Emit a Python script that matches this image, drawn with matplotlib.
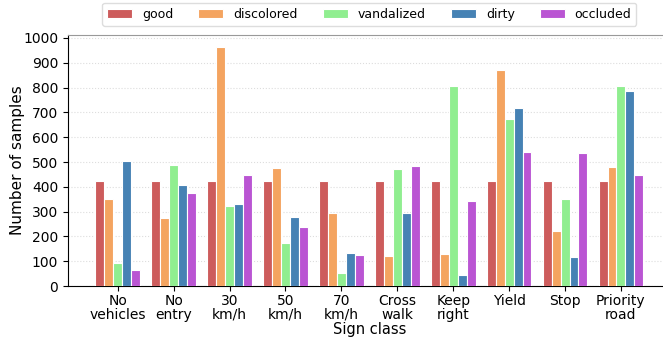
import numpy as np
import matplotlib.pyplot as plt

classes = ['No\nvehicles', 'No\nentry', '30\nkm/h', '50\nkm/h', '70\nkm/h',
           'Cross\nwalk', 'Keep\nright', 'Yield', 'Stop', 'Priority\nroad']
conditions = ['good', 'discolored', 'vandalized', 'dirty', 'occluded']
colors = ['#cd5c5c', '#f4a460', '#90ee90', '#4682b4', '#ba55d3']

good = [425, 425, 425, 425, 425, 425, 425, 425, 425, 425]
discolored = [352, 275, 962, 476, 295, 121, 130, 871, 223, 481]
vandalized = [94, 487, 322, 172, 54, 471, 805, 675, 352, 805]
dirty = [503, 407, 329, 278, 132, 293, 46, 718, 118, 787]
occluded = [63, 376, 447, 236, 125, 482, 341, 541, 536, 446]
series = [good, discolored, vandalized, dirty, occluded]

fig = plt.figure(figsize=(6.63, 3.37), dpi=100)
ax = fig.add_axes([0.1026, 0.1513, 0.9090, 0.7448])

x = np.arange(len(classes))
w = 0.16
for i, (name, vals) in enumerate(zip(conditions, series)):
    ax.bar(x + (i - 2) * w, vals, width=w, color=colors[i], edgecolor='white',
           linewidth=0.8, label=name, zorder=3)

ax.set_xlim(-0.89, 9.89)
ax.set_ylim(0, 1012)
ax.set_yticks(range(0, 1001, 100))
ax.set_xticks(x)
ax.set_xticklabels(classes, fontsize=10, linespacing=1.0)
ax.tick_params(axis='y', labelsize=10)
ax.tick_params(axis='x', pad=2)
ax.grid(axis='y', linestyle=':', color='#dddddd', linewidth=0.8, zorder=0)
ax.set_xlabel('Sign class', fontsize=10.5, labelpad=0)
ax.set_ylabel('Number of samples', fontsize=11, labelpad=-1)
for s in ['top', 'right']:
    ax.spines[s].set_color('#999999')

ax.legend(loc='lower center', bbox_to_anchor=(0.5, 1.012), ncol=5, fontsize=9,
          handlelength=2.0, columnspacing=2.0, framealpha=1,
          edgecolor='#dddddd')

fig.savefig('out.png', dpi=100)
